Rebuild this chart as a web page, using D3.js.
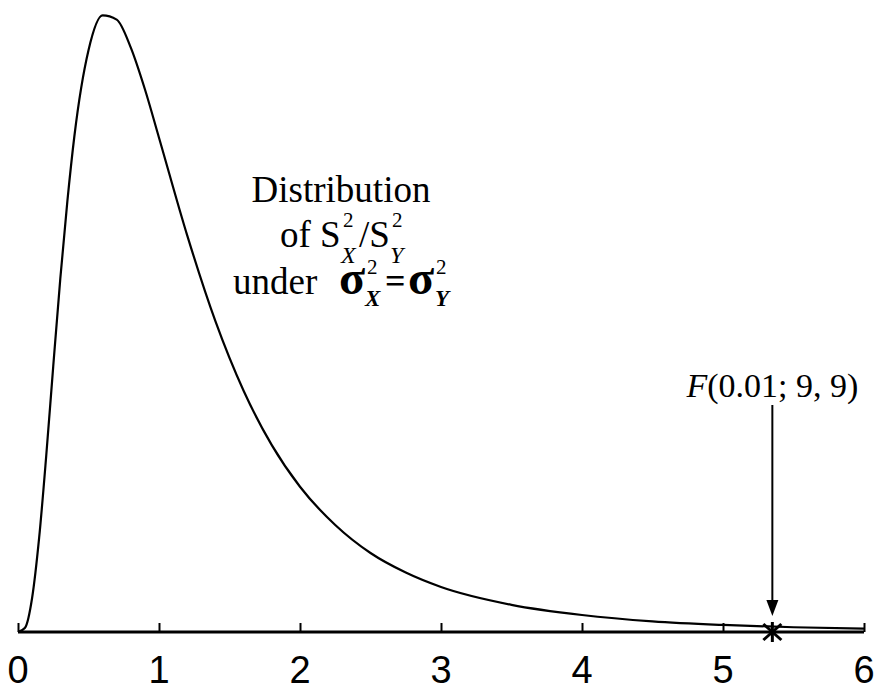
<!DOCTYPE html>
<html>
<head>
<meta charset="utf-8">
<script src="https://cdn.jsdelivr.net/npm/d3@7/dist/d3.min.js"></script>
<style>
  html, body { margin: 0; padding: 0; background: #fff; }
  svg { display: block; }
</style>
</head>
<body>
<div id="chart"></div>
<script>
// F density, df = (9, 9)
const fX = [0, 0.05, 0.1, 0.15, 0.2, 0.25, 0.3, 0.35, 0.4, 0.5, 0.6, 0.7, 0.8, 0.9, 1.0,
            1.2, 1.4, 1.6, 1.8, 2.0, 2.25, 2.5, 2.75, 3.0, 3.5, 4.0, 4.5, 5.0, 5.5, 6.0];
const fDensity = [0, 0.005, 0.040, 0.111, 0.207, 0.313, 0.416, 0.507, 0.584, 0.685, 0.726, 0.721,
                  0.688, 0.639, 0.582, 0.467, 0.366, 0.284, 0.220, 0.171, 0.126, 0.093, 0.070,
                  0.053, 0.032, 0.020, 0.0125, 0.0083, 0.0056, 0.0039];
const tickValues = [0, 1, 2, 3, 4, 5, 6];
const critValue = 5.35;          // F(0.01; 9, 9)

const width = 875, height = 692;
const svg = d3.select("#chart").append("svg")
  .attr("width", width)
  .attr("height", height);

svg.append("rect").attr("width", width).attr("height", height).attr("fill", "#fff");

const x = d3.scaleLinear().domain([0, 6]).range([18, 864]);
const y = d3.scaleLinear().domain([0, 0.73]).range([632, 12]);

// axis
const axis = svg.append("g")
  .attr("transform", `translate(0,${y(0)})`)
  .call(d3.axisTop(x).tickValues(tickValues).tickSize(9).tickFormat(""));
axis.select(".domain").attr("stroke-width", 3).attr("d", `M${x(0)},0H${x(6)}`);
axis.selectAll(".tick line").attr("stroke-width", 2);

svg.append("g").selectAll("text")
  .data(tickValues)
  .join("text")
  .attr("x", d => x(d))
  .attr("y", 683)
  .attr("text-anchor", "middle")
  .attr("font-family", "'Liberation Sans', Arial, sans-serif")
  .attr("font-size", 38)
  .text(d => d);

// density curve
const line = d3.line()
  .x((d, i) => x(fX[i]))
  .y(d => y(d))
  .curve(d3.curveMonotoneX);

svg.append("path")
  .attr("d", line(fDensity))
  .attr("fill", "none")
  .attr("stroke", "#000")
  .attr("stroke-width", 2.2);

// critical value marker
const cx = x(critValue), cy = y(0);
svg.append("line")
  .attr("x1", cx).attr("x2", cx)
  .attr("y1", 405).attr("y2", 602)
  .attr("stroke", "#000").attr("stroke-width", 2);
svg.append("path")
  .attr("d", `M${cx - 6},600L${cx + 6},600L${cx},616Z`)
  .attr("fill", "#000");
const star = svg.append("g").attr("stroke", "#000").attr("stroke-width", 3);
star.append("line").attr("x1", cx).attr("x2", cx).attr("y1", cy - 10).attr("y2", cy + 10);
star.append("line").attr("x1", cx - 9).attr("x2", cx + 9).attr("y1", cy - 8).attr("y2", cy + 8);
star.append("line").attr("x1", cx - 9).attr("x2", cx + 9).attr("y1", cy + 8).attr("y2", cy - 8);

const serif = "'Liberation Serif', 'Times New Roman', serif";

const lab = svg.append("text")
  .attr("x", cx).attr("y", 397)
  .attr("text-anchor", "middle")
  .attr("font-family", serif)
  .attr("font-size", 34);
lab.append("tspan").attr("font-style", "italic").text("F");
lab.append("tspan").text("(0.01; 9, 9)");

// annotation text: one <text> per line, pieces placed as tspans
function textLine(parts) {
  const t = svg.append("text").attr("font-family", serif);
  parts.forEach(p => {
    t.append("tspan")
      .attr("x", p.x).attr("y", p.y)
      .attr("font-size", p.size)
      .attr("font-style", p.italic ? "italic" : "normal")
      .attr("font-weight", p.bold ? "bold" : "normal")
      .text(p.s);
  });
  return t;
}

svg.append("text")
  .attr("x", 341).attr("y", 202)
  .attr("text-anchor", "middle")
  .attr("font-family", serif)
  .attr("font-size", 37)
  .text("Distribution");

textLine([
  { s: "of S", x: 280, y: 247, size: 37 },
  { s: "2", x: 343, y: 227, size: 21 },
  { s: "X", x: 341, y: 263, size: 24, italic: true },
  { s: "/S", x: 359, y: 247, size: 37 },
  { s: "2", x: 392, y: 227, size: 21 },
  { s: "Y", x: 390, y: 263, size: 24, italic: true }
]);

textLine([
  { s: "under", x: 233, y: 294, size: 37 },
  { s: "σ", x: 339, y: 294, size: 48, bold: true },
  { s: "2", x: 367, y: 274, size: 21 },
  { s: "X", x: 365, y: 306, size: 23, italic: true, bold: true },
  { s: "=", x: 385, y: 293, size: 36, bold: true },
  { s: "σ", x: 408, y: 294, size: 48, bold: true },
  { s: "2", x: 436, y: 274, size: 21 },
  { s: "Y", x: 435, y: 306, size: 23, italic: true, bold: true }
]);
</script>
</body>
</html>
